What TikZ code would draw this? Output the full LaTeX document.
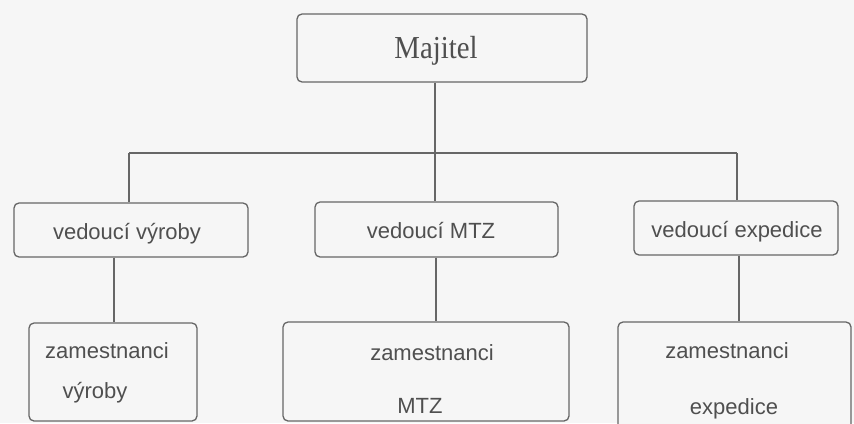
\documentclass[tikz,border=0pt]{standalone}
\usepackage{fontspec}
\setmainfont{Liberation Serif}
\setsansfont{Liberation Sans}
\definecolor{linec}{HTML}{666666}
\definecolor{textc}{HTML}{4F4F4F}
\definecolor{bgc}{HTML}{F6F6F6}
\begin{document}
\begin{tikzpicture}[x=1pt,y=-1pt,
  box/.style={draw=linec, line width=1.3pt, rounded corners=5pt, fill=bgc, inner sep=0pt},
  conn/.style={draw=linec, line width=1.3pt},
  lab/.style={text=textc, font=\sffamily\fontsize{22}{25}\selectfont, inner sep=0pt, anchor=base},
  serlab/.style={text=textc, font=\rmfamily\fontsize{32}{36}\selectfont, inner sep=0pt, anchor=base}]
\fill[bgc] (0,0) rectangle (854,423);
\useasboundingbox (0,0) rectangle (854,423);
% boxes
\node[box, minimum width=290pt, minimum height=68pt] (maj) at (442,48) {};
\node[box, minimum width=234pt, minimum height=54pt] (v1) at (131,230) {};
\node[box, minimum width=243pt, minimum height=55pt] (v2) at (436.5,229.5) {};
\node[box, minimum width=204pt, minimum height=54pt] (v3) at (736,228) {};
\node[box, minimum width=168pt, minimum height=98pt] (z1) at (113,372) {};
\node[box, minimum width=286pt, minimum height=99pt] (z2) at (426,371.5) {};
\node[box, minimum width=233pt, minimum height=110pt] (z3) at (734.5,377) {};
% labels
\node[serlab, xscale=0.9] (tmaj) at (436,58) {Majitel};
\node[lab] (tv1) at (127,239) {vedoucí výroby};
\node[lab] (tv2) at (431,238) {vedoucí MTZ};
\node[lab] (tv3) at (737,237) {vedoucí expedice};
\node[lab] (tz1a) at (107,358) {zamestnanci};
\node[lab] (tz1b) at (95,398) {výroby};
\node[lab] (tz2a) at (432,360) {zamestnanci};
\node[lab] (tz2b) at (420,413) {MTZ};
\node[lab] (tz3a) at (727,358) {zamestnanci};
\node[lab] (tz3b) at (734,414) {expedice};
% connectors
\coordinate (b1) at (129,153);
\coordinate (b2) at (435,153);
\coordinate (b3) at (737,153);
\coordinate (l1) at (114,0);
\coordinate (l2) at (436,0);
\coordinate (l3) at (739,0);
\draw[conn] (b2 |- maj.south) -- (b2);
\draw[conn] (b1) -- (b3);
\draw[conn] (b1) -- (b1 |- v1.north);
\draw[conn] (b2) -- (b2 |- v2.north);
\draw[conn] (b3) -- (b3 |- v3.north);
\draw[conn] (l1 |- v1.south) -- (l1 |- z1.north);
\draw[conn] (l2 |- v2.south) -- (l2 |- z2.north);
\draw[conn] (l3 |- v3.south) -- (l3 |- z3.north);
\end{tikzpicture}
\end{document}
